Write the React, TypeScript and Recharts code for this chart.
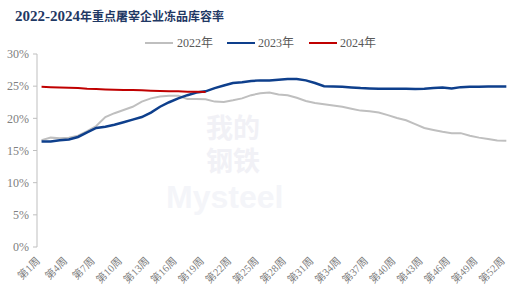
import React from 'react';
import { LineChart, Line, XAxis, YAxis } from 'recharts';

const weeks = [
  '第1周', '第2周', '第3周', '第4周', '第5周', '第6周', '第7周', '第8周', '第9周', '第10周',
  '第11周', '第12周', '第13周', '第14周', '第15周', '第16周', '第17周', '第18周', '第19周', '第20周',
  '第21周', '第22周', '第23周', '第24周', '第25周', '第26周', '第27周', '第28周', '第29周', '第30周',
  '第31周', '第32周', '第33周', '第34周', '第35周', '第36周', '第37周', '第38周', '第39周', '第40周',
  '第41周', '第42周', '第43周', '第44周', '第45周', '第46周', '第47周', '第48周', '第49周', '第50周',
  '第51周', '第52周', '第53周',
];

const y2022 = [
  16.6, 17.0, 16.9, 17.0, 17.3, 18.0, 18.8, 20.2, 20.8, 21.3,
  21.8, 22.6, 23.1, 23.4, 23.5, 23.5, 23.0, 23.0, 22.95, 22.6,
  22.55, 22.8, 23.1, 23.6, 23.9, 24.0, 23.7, 23.6, 23.2, 22.7,
  22.4, 22.2, 22.0, 21.8, 21.5, 21.2, 21.1, 20.9, 20.5, 20.05,
  19.7, 19.1, 18.5, 18.2, 17.9, 17.7, 17.7, 17.3, 17.0, 16.8,
  16.55, 16.5,
];

const y2023 = [
  16.4, 16.4, 16.6, 16.7, 17.1, 17.8, 18.5, 18.7, 19.0, 19.4,
  19.8, 20.2, 20.9, 21.8, 22.5, 23.1, 23.6, 24.0, 24.2, 24.7,
  25.1, 25.5, 25.6, 25.8, 25.9, 25.9, 26.0, 26.1, 26.1, 25.9,
  25.5, 25.0, 24.95, 24.9, 24.8, 24.7, 24.65, 24.6, 24.6, 24.6,
  24.6, 24.55, 24.6, 24.7, 24.8, 24.65, 24.85, 24.9, 24.9, 24.95,
  24.95, 24.95,
];

const y2024 = [
  24.9, 24.85, 24.8, 24.75, 24.7, 24.6, 24.55, 24.5, 24.45, 24.4,
  24.4, 24.35, 24.3, 24.25, 24.2, 24.2, 24.15, 24.15, 24.1,
];

const yTicks = [0, 5, 10, 15, 20, 25, 30];
const boundaryTicks = Array.from({ length: 54 }, (_, i) => i);

const data = weeks.map((w, i) => ({
  week: w,
  y2022: i < y2022.length ? y2022[i] : null,
  y2023: i < y2023.length ? y2023[i] : null,
  y2024: i < y2024.length ? y2024[i] : null,
}));

const AXIS = '#BFBFBF';
const LABEL = '#808080';
const HALF_BAND = 483 / 53 / 2;

const XTick = (props: any) => {
  const { x, y, payload } = props;
  return (
    <g transform={`translate(${x - 3.5},${y + 12})`}>
      <text
        transform="rotate(-45)"
        textAnchor="end"
        dy="0.35em"
        fontSize={10.5}
        fill={LABEL}
        fontFamily="'Liberation Serif', 'Noto Sans CJK SC', serif"
      >
        {payload.value}
      </text>
    </g>
  );
};

const legendItems = [
  { name: '2022年', color: '#BFBFBF', lineX: 145, textX: 177 },
  { name: '2023年', color: '#0E3F8C', lineX: 227, textX: 258 },
  { name: '2024年', color: '#C00000', lineX: 309, textX: 340 },
];

export default function App() {
  return (
    <div style={{ position: 'absolute', left: 0, top: 0, width: 523, height: 296, background: '#fff' }}>
      <div
        style={{
          position: 'absolute',
          left: 206,
          top: 110,
          width: 58,
          fontFamily: "'Noto Sans CJK SC', sans-serif",
          fontWeight: 700,
          fontSize: 27,
          lineHeight: '33px',
          wordBreak: 'break-all',
          color: '#F1F1F6',
        }}
      >
        我的钢铁
      </div>
      <div
        style={{
          position: 'absolute',
          left: 166,
          top: 180,
          fontFamily: "'Liberation Sans', sans-serif",
          fontWeight: 700,
          fontSize: 32,
          lineHeight: '34px',
          color: '#F4F5F9',
          whiteSpace: 'nowrap',
        }}
      >
        Mysteel
      </div>
      <div
        style={{
          position: 'absolute',
          left: 15,
          top: 7,
          whiteSpace: 'nowrap',
          fontWeight: 700,
          color: '#1F3864',
          lineHeight: '18px',
        }}
      >
        <span style={{ fontFamily: "'Liberation Serif', serif", fontSize: 15 }}>2022-2024</span>
        <span style={{ fontFamily: "'Noto Sans CJK SC', sans-serif", fontSize: 12 }}>年重点屠宰企业冻品库容率</span>
      </div>
      {legendItems.map((it) => (
        <React.Fragment key={it.name}>
          <div
            style={{
              position: 'absolute',
              left: it.lineX,
              top: 42,
              width: 28,
              height: 2,
              background: it.color,
            }}
          />
          <div
            style={{
              position: 'absolute',
              left: it.textX,
              top: 35,
              fontSize: 12,
              lineHeight: '16px',
              color: '#595959',
              whiteSpace: 'nowrap',
              fontFamily: "'Liberation Serif', 'Noto Sans CJK SC', serif",
            }}
          >
            {it.name}
          </div>
        </React.Fragment>
      ))}
      <div style={{ position: 'absolute', left: 0, top: 0 }}>
        <LineChart width={523} height={296} data={data} margin={{ top: 54, right: 3, left: 0, bottom: 0 }}>
          <XAxis
            xAxisId="marks"
            type="number"
            domain={[0, 53]}
            ticks={boundaryTicks}
            allowDataOverflow
            tick={false}
            tickSize={4}
            height={0}
            axisLine={{ stroke: AXIS }}
            tickLine={{ stroke: AXIS }}
          />
          <XAxis
            xAxisId="w"
            dataKey="week"
            type="category"
            interval={2}
            padding={{ left: HALF_BAND, right: HALF_BAND }}
            axisLine={false}
            tickLine={false}
            tickSize={0}
            tickMargin={0}
            height={49}
            tick={<XTick />}
          />
          <YAxis
            domain={[0, 30]}
            ticks={yTicks}
            tickFormatter={(v: number) => `${v}%`}
            width={37}
            tickSize={4}
            tickMargin={4}
            axisLine={{ stroke: AXIS }}
            tickLine={{ stroke: AXIS }}
            tick={{ fontSize: 12, fill: LABEL, fontFamily: "'Liberation Serif', serif" }}
          />
          <Line xAxisId="w" type="linear" dataKey="y2022" stroke="#BFBFBF" strokeWidth={2} dot={false} isAnimationActive={false} connectNulls={false} />
          <Line xAxisId="w" type="linear" dataKey="y2023" stroke="#0E3F8C" strokeWidth={2.5} dot={false} isAnimationActive={false} connectNulls={false} />
          <Line xAxisId="w" type="linear" dataKey="y2024" stroke="#C00000" strokeWidth={2} dot={false} isAnimationActive={false} connectNulls={false} />
        </LineChart>
      </div>
    </div>
  );
}
